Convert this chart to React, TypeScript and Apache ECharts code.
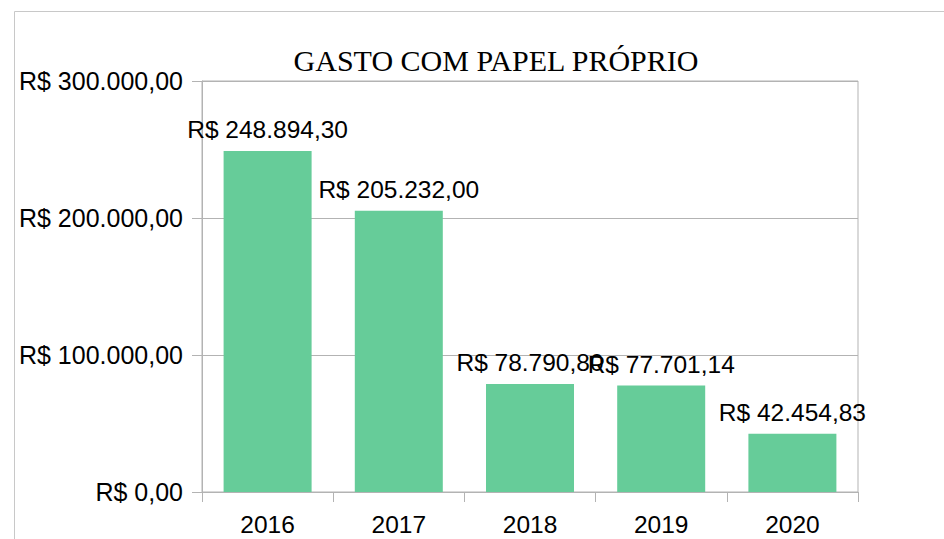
import React, { useEffect, useRef } from "react";
import * as echarts from "echarts";

const categories = ["2016", "2017", "2018", "2019", "2020"];
const values = [248894.3, 205232.0, 78790.8, 77701.14, 42454.83];
const titleText = "GASTO COM PAPEL PRÓPRIO";

function brl(v: number): string {
  const fixed = Math.abs(v).toFixed(2);
  const [intPart, dec] = fixed.split(".");
  const withDots = intPart.replace(/\B(?=(\d{3})+(?!\d))/g, ".");
  return "R$ " + (v < 0 ? "-" : "") + withDots + "," + dec;
}

export default function App() {
  const ref = useRef<HTMLDivElement>(null);
  useEffect(() => {
    if (!ref.current) return;
    const chart = echarts.init(ref.current, null, { renderer: "svg" });
    const gray = "#b3b3b3";
    const sans = "'Liberation Sans', Arial, sans-serif";
    chart.setOption({
      animation: false,
      backgroundColor: "#ffffff",
      graphic: [
        {
          type: "polyline",
          silent: true,
          shape: { points: [[14.5, 539], [14.5, 11.5], [944, 11.5]] },
          style: { stroke: "#c8c8c8", lineWidth: 1, fill: null },
        },
        {
          type: "text",
          x: 496,
          y: 60,
          style: {
            text: titleText,
            font: "30px 'Liberation Serif', 'Times New Roman', serif",
            fill: "#000000",
            align: "center",
            verticalAlign: "middle",
          },
        },
      ],
      grid: {
        left: 202,
        right: 86,
        top: 81,
        bottom: 47,
        show: true,
        borderColor: gray,
        borderWidth: 1,
        containLabel: false,
      },
      xAxis: {
        type: "category",
        data: categories,
        boundaryGap: true,
        axisLine: { show: true, lineStyle: { color: gray, width: 1 } },
        axisTick: { show: true, length: 10, alignWithLabel: false, lineStyle: { color: gray } },
        axisLabel: { color: "#000", fontFamily: sans, fontSize: 24.5, margin: 20 },
      },
      yAxis: {
        type: "value",
        min: 0,
        max: 300000,
        interval: 100000,
        axisLine: { show: true, lineStyle: { color: gray, width: 1 } },
        axisTick: { show: true, length: 10, lineStyle: { color: gray } },
        splitLine: { show: true, lineStyle: { color: gray, width: 1 } },
        axisLabel: {
          color: "#000",
          fontFamily: sans,
          fontSize: 25,
          margin: 19,
          formatter: (v: number) => brl(v),
        },
      },
      series: [
        {
          type: "bar",
          data: values,
          barWidth: 88,
          itemStyle: { color: "#66cc99" },
          label: {
            show: true,
            position: "top",
            distance: 9,
            color: "#000",
            fontFamily: sans,
            fontSize: 24.5,
            formatter: (p: any) => brl(p.value),
          },
        },
      ],
    });
    return () => chart.dispose();
  }, []);
  return (
    <div
      ref={ref}
      style={{ position: "fixed", left: 0, top: 0, width: 944, height: 539 }}
    />
  );
}
